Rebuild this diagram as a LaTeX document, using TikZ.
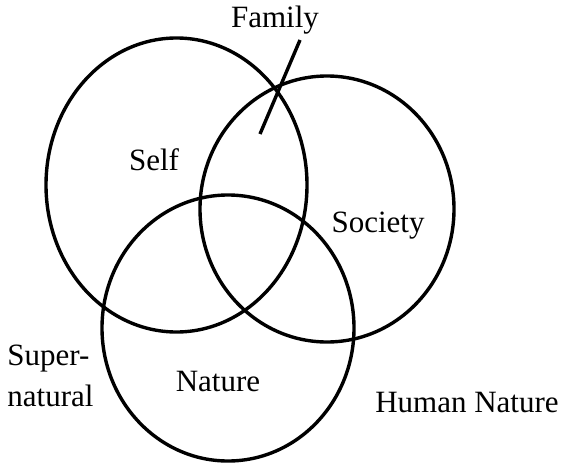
\documentclass[tikz,border=0pt]{standalone}
\usepackage{fontspec}
\setmainfont{Liberation Serif}
\usetikzlibrary{shapes.geometric}
\tikzset{ring/.style={draw,ellipse,line width=1.7pt,inner sep=0pt},
  lbl/.style={font=\fontsize{15.5}{20.5}\selectfont,inner sep=0pt,align=left},
  stick/.style={line width=1.7pt}}

\begin{document}
\begin{tikzpicture}[x=0.5pt,y=-0.5pt]
\useasboundingbox (0,0) rectangle (566,465);
% circles
\node[ring,minimum width=130.5pt,minimum height=147pt] (self) at (176.5,185) {};
\node[ring,minimum width=127pt,minimum height=133pt] (society) at (327,209) {};
\node[ring,minimum width=126pt,minimum height=133pt] (nature) at (228,328) {};
% labels
\node[lbl,anchor=base] (selflbl) at (154,170) {Self};
\node[lbl,anchor=base] (societylbl) at (378,232) {Society};
\node[lbl,anchor=base] (naturelbl) at (218,391) {Nature};
\node[lbl,anchor=base] (humanlbl) at (467,412) {Human Nature};
\node[lbl,anchor=north west] (superlbl) at (7,345) {Super-\\natural};
\node[lbl,anchor=base] (familylbl) at (275,28) {Family};
% pointer
\coordinate (famtop) at (300,40);
\coordinate (famtip) at (260,134);
\draw[stick] (famtop) -- (famtip);
\end{tikzpicture}
\end{document}
